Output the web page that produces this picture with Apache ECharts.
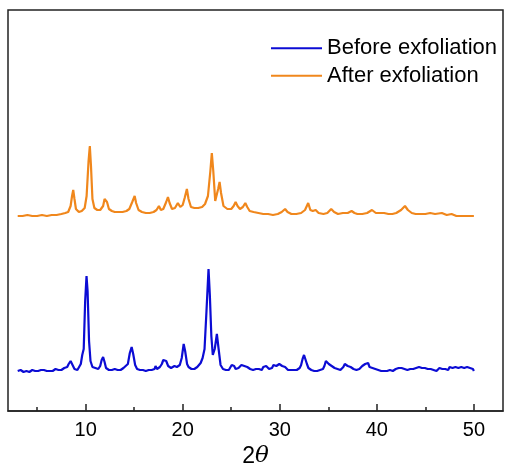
<!DOCTYPE html>
<html>
<head>
<meta charset="utf-8">
<script src="https://cdn.jsdelivr.net/npm/echarts@6/dist/echarts.min.js"></script>
<style>html,body{margin:0;padding:0;background:#fff}#c{width:507px;height:469px}</style>
</head>
<body>
<div id="c"></div>
<script>
// 2θ (deg) and intensity (a.u., offset traces as in the figure)
const seriesNames = ['Before exfoliation', 'After exfoliation'];
const majorTicks = [10, 20, 30, 40, 50];
const minorTicks = [5, 15, 25, 35, 45];

const before = [
[3.0,40],[3.15,39],[3.3,41],[3.45,40],[3.6,39],[3.75,41],[3.9,40],[4.05,41],[4.2,39],[4.35,40],[4.5,41],[4.65,39],[4.8,40],[4.95,41],[5.1,40],[5.25,39],[5.4,41],[5.55,40],[5.7,41],[5.85,39],[6.0,40],[6.15,41],[6.3,40],[6.45,42],[6.6,40],[6.75,41],[6.9,42],[7.05,40],[7.2,41],[7.35,42],[7.5,41],[7.65,42],[7.8,43],[7.95,42],[8.1,44],[8.25,47],[8.45,50],[8.65,46],[8.85,42],[9.0,43],[9.15,41],[9.3,42],[9.5,47],[9.65,56],[9.8,62],[9.95,110],[10.09,135],[10.2,120],[10.35,70],[10.5,50],[10.7,44],[10.85,42],[11.0,43],[11.15,41],[11.3,42],[11.5,45],[11.65,51],[11.8,54],[11.95,49],[12.1,43],[12.25,42],[12.4,41],[12.55,40],[12.7,41],[12.85,40],[13.0,42],[13.15,40],[13.3,41],[13.45,42],[13.6,41],[13.75,42],[13.9,43],[14.1,43],[14.35,47],[14.55,58],[14.74,64],[14.9,57],[15.1,46],[15.3,42],[15.45,43],[15.6,41],[15.75,42],[15.9,41],[16.05,42],[16.2,40],[16.35,42],[16.5,41],[16.65,42],[16.8,41],[16.95,43],[17.1,42],[17.2,45],[17.35,42],[17.5,43],[17.65,44],[17.85,47],[18.0,51],[18.15,52],[18.3,50],[18.5,45],[18.65,44],[18.8,43],[19.0,44],[19.15,45],[19.27,46],[19.4,44],[19.55,45],[19.7,46],[19.9,53],[20.1,67],[20.25,60],[20.45,47],[20.6,44],[20.75,43],[20.9,42],[21.05,44],[21.2,42],[21.35,43],[21.5,44],[21.65,43],[21.85,48],[22.05,53],[22.25,62],[22.45,100],[22.66,142],[22.8,115],[22.95,75],[23.1,56],[23.3,62],[23.52,77],[23.7,62],[23.9,46],
[24.0,44],[24.15,42],[24.3,43],[24.45,41],[24.6,42],[24.75,41],[24.9,43],[25.05,46],[25.16,48],[25.3,45],[25.45,42],[25.6,41],[25.75,43],[25.9,44],[26.05,46],[26.2,47],[26.35,45],[26.5,46],[26.65,44],[26.8,45],[26.95,42],[27.1,43],[27.25,41],[27.4,43],[27.55,42],[27.7,44],[27.85,42],[28.0,43],[28.15,41],[28.3,44],[28.45,42],[28.6,45],[28.75,43],[28.9,42],[29.05,44],[29.2,43],[29.35,46],[29.5,44],[29.65,45],[29.8,43],[29.95,47],[30.1,49],[30.25,45],[30.4,47],[30.55,44],[30.7,42],[30.85,41],[31.0,40],[31.15,41],[31.3,40],[31.45,41],[31.6,40],[31.75,41],[31.9,42],[32.05,43],[32.2,46],[32.35,52],[32.5,56],[32.65,54],[32.8,47],[32.95,43],[33.1,42],[33.25,41],[33.4,42],[33.55,40],[33.7,41],[33.85,40],[34.0,42],[34.15,41],[34.3,43],[34.45,42],[34.6,45],[34.75,50],[34.9,49],[35.05,47],[35.2,48],[35.35,45],[35.5,46],[35.65,43],[35.8,44],[35.95,42],[36.1,43],[36.25,41],[36.4,42],[36.55,44],[36.7,47],[36.85,48],[37.0,45],[37.15,47],[37.3,44],[37.45,43],[37.6,42],[37.75,40],[37.9,41],[38.05,40],[38.2,42],[38.35,43],[38.5,45],[38.65,44],[38.8,47],[38.95,45],[39.1,48],[39.25,44],[39.4,46],[39.55,43],[39.7,44],[39.85,42],[40.0,43],[40.15,41],[40.3,42],[40.45,40],[40.6,41],[40.75,40],[40.9,41],[41.05,40],[41.2,42],[41.35,41],[41.5,43],[41.65,40],[41.8,41],[41.95,42],[42.1,44],[42.25,43],[42.4,45],[42.55,43],[42.7,44],[42.85,42],[43.0,43],[43.15,41],[43.3,43],[43.45,42],[43.6,41],[43.75,42],[43.9,44],[44.05,43],[44.2,45],[44.35,44],[44.5,46],[44.65,43],[44.8,42],[44.95,43],[45.1,41],[45.25,42],[45.4,44],[45.55,42],[45.7,43],[45.85,41],[46.0,42],[46.15,40],[46.3,42],[46.45,43],[46.6,41],[46.75,42],[46.9,44],[47.05,42],[47.2,43],[47.35,41],[47.5,44],[47.65,46],[47.8,43],[47.95,42],[48.1,44],[48.25,42],[48.4,43],[48.55,41],[48.7,44],[48.85,42],[49.0,43],[49.15,41],[49.3,44],[49.45,42],[49.6,43],[49.75,45],[49.9,42],[50.0,40]
];

const after = [
[3.0,195],[3.5,195],[4.0,196],[4.5,195],[5.0,195],[5.5,196],[6.0,195],[6.5,196],[7.0,196],[7.5,197],[7.9,198],[8.2,199],[8.45,205],[8.6,215],[8.72,221],[8.85,212],[9.0,202],[9.3,199],[9.6,200],[9.9,203],[10.1,215],[10.3,250],[10.43,265],[10.55,245],[10.7,212],[10.9,203],[11.2,201],[11.5,201],[11.8,205],[11.95,212],[12.07,214],[12.2,209],[12.4,202],[12.7,200],[13.0,199],[13.4,199],[13.8,199],[14.2,200],[14.5,202],[14.8,209],[15.05,215],[15.2,208],[15.45,201],[15.8,199],[16.2,198],[16.6,198],[17.0,199],[17.3,201],[17.55,205],[17.75,201],[18.0,202],[18.3,209],[18.48,214],[18.65,208],[18.9,202],[19.2,203],[19.5,208],[19.75,204],[20.0,206],[20.2,213],[20.43,222],[20.6,212],[20.85,204],[21.2,203],[21.6,203],[22.0,204],[22.3,207],[22.6,215],[22.85,240],[23.0,258],[23.15,240],[23.35,210],[23.45,208],[23.65,222],[23.8,229],[23.95,218],[24.2,205],[24.6,202],[25.0,202],[25.25,205],[25.45,209],[25.65,205],[25.9,202],[26.2,204],[26.45,208],[26.65,204],[26.9,200],[27.3,199],[27.8,198],[28.3,197],[28.8,197],[29.3,196],[29.8,197],[30.2,199],[30.55,202],[30.8,199],[31.2,197],[31.7,197],[32.2,198],[32.6,201],[32.93,208],[33.15,201],[33.4,200],[33.7,201],[34.0,198],[34.5,197],[34.9,198],[35.3,202],[35.6,199],[36.0,197],[36.5,198],[37.0,198],[37.4,200],[37.7,198],[38.0,197],[38.5,197],[39.0,198],[39.5,201],[39.9,198],[40.4,198],[40.75,198],[41.2,197],[41.6,197],[42.0,198],[42.5,201],[42.9,205],[43.2,201],[43.6,198],[44.0,197],[44.5,197],[45.0,197],[45.5,198],[46.0,197],[46.7,198],[47.2,196],[47.7,197],[48.2,195],[48.7,195],[49.2,195],[50.0,195]
];

const FONT = '"Liberation Sans", Arial, sans-serif';
const chart = echarts.init(document.getElementById('c'));
chart.setOption({
  animation: false,
  backgroundColor: '#fff',
  textStyle: { fontFamily: FONT },
  grid: { left: 8, right: 4, top: 10, bottom: 58, show: true, borderColor: '#222', borderWidth: 1.5, containLabel: false, outerBoundsMode: 'none' },
  legend: {
    orient: 'vertical', left: 271, top: 35, padding: 0, itemGap: 1,
    icon: 'rect', itemWidth: 51, itemHeight: 2,
    textStyle: { fontSize: 22, color: '#000', fontFamily: FONT, lineHeight: 26.5 },
    data: seriesNames
  },
  xAxis: [{
    type: 'value', min: 2, max: 53, position: 'bottom',
    axisLine: { show: true, lineStyle: { color: '#222', width: 1.5 } },
    axisTick: { show: true, inside: true, length: 7, customValues: majorTicks, lineStyle: { color: '#222', width: 1.5 } },
    axisLabel: { show: true, customValues: majorTicks, fontSize: 20, color: '#000', margin: 9, fontFamily: FONT },
    splitLine: { show: false },
    name: '{a|2}{b|θ}', nameLocation: 'middle', nameGap: 33,
    nameTextStyle: { rich: { a: { fontSize: 23, fontFamily: FONT, color: '#000' }, b: { fontSize: 23, fontStyle: 'italic', fontFamily: '"DejaVu Serif", serif', color: '#000' } } }
  }, {
    type: 'value', min: 2, max: 53, position: 'bottom',
    axisLine: { show: false },
    axisTick: { show: true, inside: true, length: 4, customValues: minorTicks, lineStyle: { color: '#222', width: 1.5 } },
    axisLabel: { show: false },
    splitLine: { show: false }
  }],
  yAxis: { type: 'value', min: 0, max: 401, show: false, splitLine: { show: false } },
  series: [
    { name: seriesNames[0], type: 'line', data: before, showSymbol: false, symbol: 'none', color: '#0c0cd4', lineStyle: { width: 2.2, color: '#0c0cd4' } },
    { name: seriesNames[1], type: 'line', data: after, showSymbol: false, symbol: 'none', color: '#f0871c', lineStyle: { width: 2.2, color: '#f0871c' } }
  ]
});
</script>
</body>
</html>
